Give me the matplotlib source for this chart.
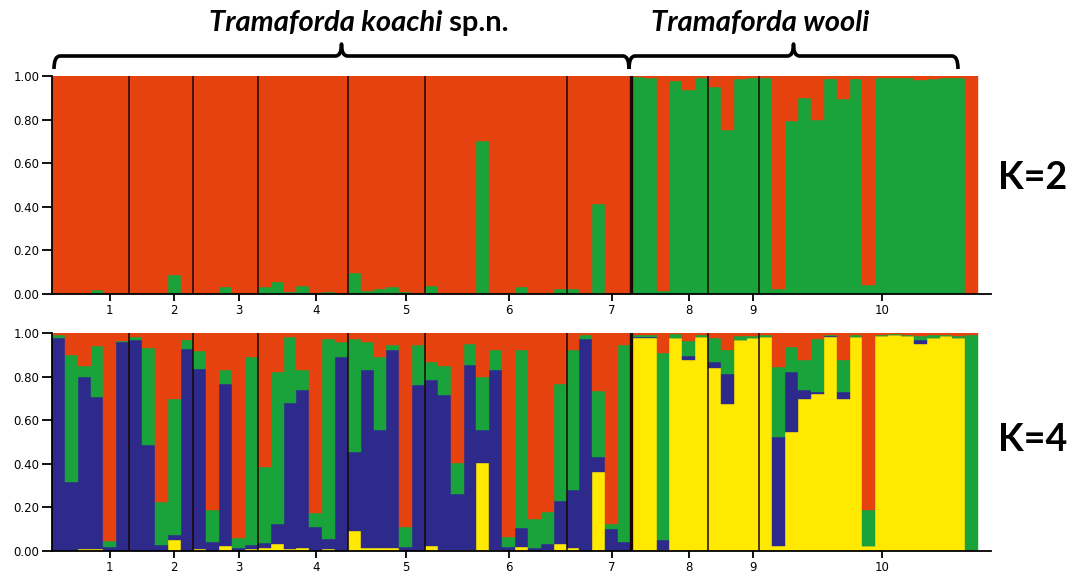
import numpy as np
import matplotlib
matplotlib.use("Agg")
import matplotlib.pyplot as plt
from matplotlib.path import Path
from matplotlib.patches import PathPatch

# colours of the clusters
RED = "#E5420F"
GREEN = "#1BA33B"
BLUE = "#2D2A8C"
YELLOW = "#FFE900"

# populations (number of individuals in each)
pop_sizes = [6, 5, 5, 7, 6, 11, 5, 6, 4, 17]
pop_labels = ["1", "2", "3", "4", "5", "6", "7", "8", "9", "10"]
tick_pos = [4.5, 9.5, 14.5, 20.5, 27.5, 35.5, 43.5, 49.5, 54.5, 64.5]

# K=2 : proportion of the green cluster, rest is red
k2_green = [
    .005, .005, .005, .017, .003, .003,
    .003, .005, .003, .088, .003,
    .005, .003, .030, .003, .005,
    .030, .053, .010, .038, .005, .008, .003,
    .096, .015, .025, .030, .008, .003,
    .038, .005, .005, .005, .700, .005, .005, .030, .005, .005, .023,
    .023, .005, .415, .002, .002,
    .995, .990, .015, .977, .936, .990,
    .951, .752, .988, .990,
    .990, .025, .793, .900, .800, .985, .893, .985, .043, .990, .990, .990, .982, .985, .990, .990, .000,
]

# K=4 : yellow, blue, green (red = remainder)
k4_yellow = [
    0, 0, .010, .010, 0, 0,
    0, 0, 0, .050, 0,
    .010, 0, .023, 0, .010,
    .015, .030, .010, .015, 0, .010, 0,
    .093, .015, .015, .015, 0, 0,
    .023, .005, .005, .005, .403, .005, 0, .020, 0, .005, .032,
    .015, 0, .364, 0, 0,
    .977, .977, .005, .977, .877, .980,
    .839, .676, .969, .975,
    .980, .023, .545, .696, .719, .980, .696, .980, .023, .985, .990, .985, .949, .975, .985, .975, 0,
]
k4_blue = [
    .977, .316, .790, .695, .020, .957,
    .970, .488, .028, .024, .926,
    .824, .043, .745, .015, .018,
    .023, .094, .667, .725, .109, .044, .890,
    .359, .813, .541, .908, .020, .760,
    .763, .712, .255, .846, .153, .825, .020, .084, .015, .027, .198,
    .265, .974, .066, .100, .043,
    .005, .005, .045, 0, .019, 0,
    .029, .135, 0, 0,
    0, .499, .278, .043, .012, .005, .035, 0, 0, 0, 0, 0, .020, 0, 0, 0, .005,
]
k4_green = [
    .013, .583, .050, .235, .026, .006,
    .013, .442, .195, .622, .042,
    .084, .147, .062, .043, .862,
    .346, .699, .303, .090, .065, .918, .070,
    .520, .129, .332, .020, .089, .183,
    .081, .133, .143, .099, .244, .093, .046, .819, .130, .148, .536,
    .643, .016, .305, .024, .900,
    .008, .008, .856, .018, .069, .010,
    .107, .112, .019, .013,
    .010, .324, .111, .138, .241, .005, .146, .010, .166, .008, .005, .005, .016, .015, .008, .010, .985,
]

n = len(k2_green)
x = np.arange(n)
bounds = np.cumsum(pop_sizes)[:-1]

plt.rcParams['font.family'] = ['DejaVu Sans']
fig = plt.figure(figsize=(10.77, 5.78), dpi=100)

ax_top = fig.add_axes([52 / 1077, 1 - 294 / 578, 939 / 1077, 218 / 578])
ax_bot = fig.add_axes([52 / 1077, 1 - 551 / 578, 939 / 1077, 218 / 578])

g2 = np.array(k2_green)
ax_top.bar(x, g2, width=1, align='edge', color=GREEN, edgecolor=GREEN, linewidth=0.3)
ax_top.bar(x, 1 - g2, bottom=g2, width=1, align='edge', color=RED, edgecolor=RED, linewidth=0.3)

y4 = np.array(k4_yellow)
b4 = np.array(k4_blue)
gr4 = np.array(k4_green)
r4 = np.clip(1 - y4 - b4 - gr4, 0, None)
bottom = np.zeros(n)
for vals, col in [(y4, YELLOW), (b4, BLUE), (gr4, GREEN), (r4, RED)]:
    ax_bot.bar(x, vals, bottom=bottom, width=1, align='edge', color=col, edgecolor=col, linewidth=0.3)
    bottom = bottom + vals

for ax in (ax_top, ax_bot):
    for b in bounds:
        lw = 2.4 if b == 45 else 1.1
        ax.axvline(b, color='#1a0800', lw=lw)
    ax.set_xlim(0, n + 1)
    ax.set_ylim(0, 1)
    ax.spines['top'].set_visible(False)
    ax.spines['right'].set_visible(False)
    ax.spines['left'].set_linewidth(1.3)
    ax.spines['bottom'].set_linewidth(1.3)
    ax.set_yticks([0, .2, .4, .6, .8, 1.0])
    ax.set_yticklabels(["0.00", "0.20", "0.40", "0.60", "0.80", "1.00"])
    ax.set_xticks(tick_pos)
    ax.set_xticklabels(pop_labels)
    ax.tick_params(axis='y', length=7, width=1.3, labelsize=8.5, pad=2)
    ax.tick_params(axis='x', length=5, width=1.3, labelsize=8.5, pad=2)

# overlay for braces and labels (pixel coordinates)
ov = fig.add_axes([0, 0, 1, 1], zorder=5)
ov.set_xlim(0, 1077)
ov.set_ylim(578, 0)
ov.axis('off')


def brace(x0, x1, y, tip, end):
    xm = (x0 + x1) / 2
    r = 6
    verts = [(x0, y + end), (x0, y), (x0 + r, y),
             (xm - r, y), (xm, y), (xm, y - tip),
             (xm, y), (xm + r, y),
             (x1 - r, y), (x1, y), (x1, y + end)]
    codes = [Path.MOVETO, Path.CURVE3, Path.CURVE3,
             Path.LINETO, Path.CURVE3, Path.CURVE3,
             Path.CURVE3, Path.CURVE3,
             Path.LINETO, Path.CURVE3, Path.CURVE3]
    ov.add_patch(PathPatch(Path(verts, codes), fill=False, lw=2.6, color='black',
                           capstyle='butt', joinstyle='round'))


brace(54, 629, 56, 12, 13)
brace(629, 958, 56, 12, 13)

ov.text(442, 31, "Tramaforda koachi", family='Lato', style='italic', weight='bold',
        fontsize=21, ha='right', va='baseline')
ov.text(442, 31, " sp.n.", family='Lato', weight='bold', fontsize=21, ha='left', va='baseline')
ov.text(760, 31, "Tramaforda wooli", family='Lato', style='italic', weight='bold',
        fontsize=21, ha='center', va='baseline')

ov.text(1033, 178, "K=2", family='Lato', weight='bold', fontsize=27, ha='center', va='center')
ov.text(1033, 440, "K=4", family='Lato', weight='bold', fontsize=27, ha='center', va='center')

fig.savefig("out.png", dpi=100)
